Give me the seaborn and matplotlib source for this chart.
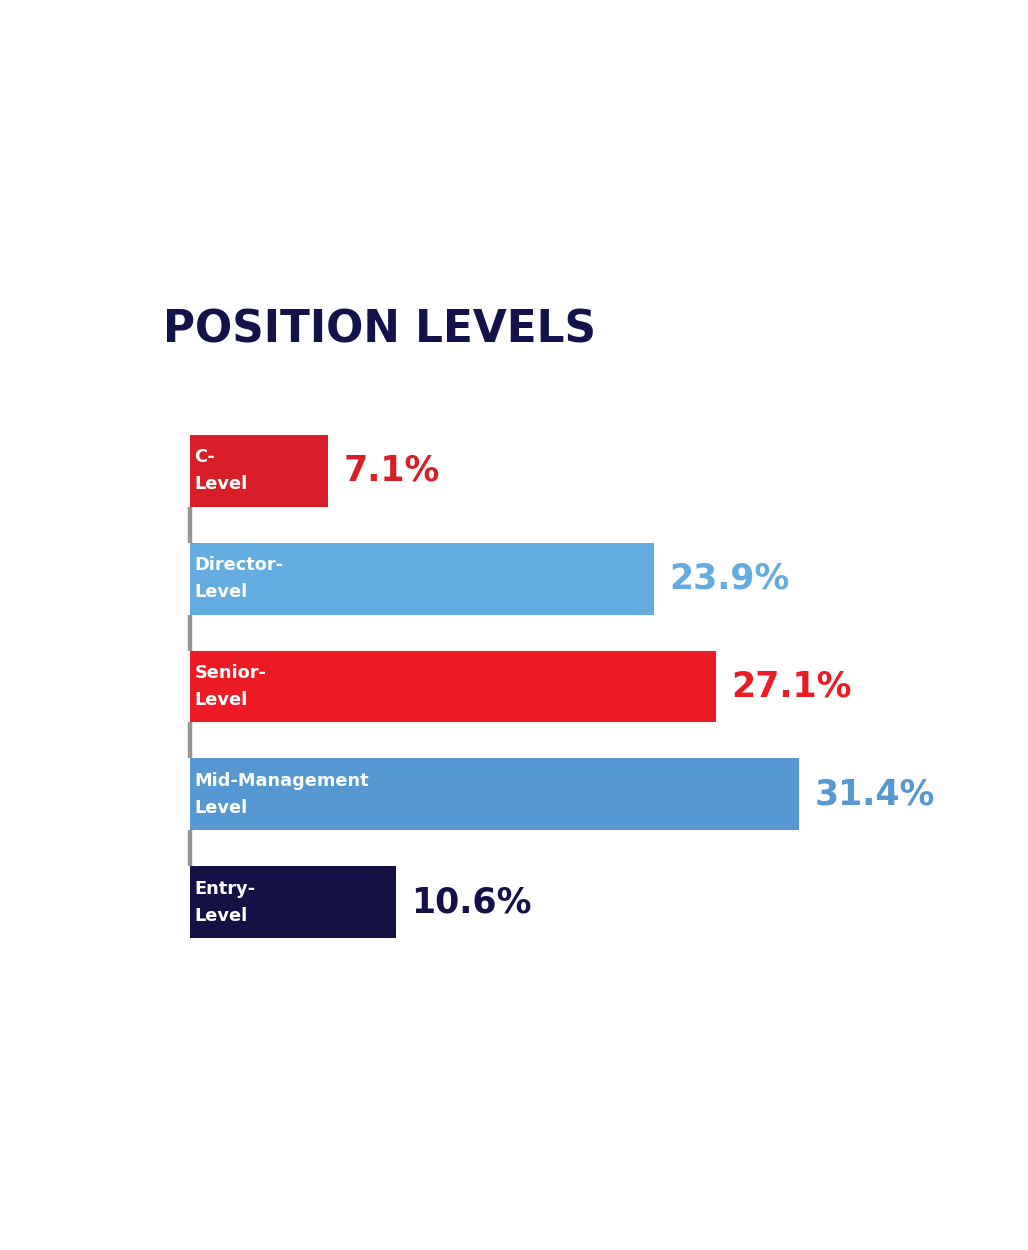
"""Position levels — horizontal bar chart."""
import matplotlib
matplotlib.use("Agg")
import matplotlib.pyplot as plt
import pandas as pd
import seaborn as sns

levels = ["C-Level", "Director-Level", "Senior-Level", "Mid-Management Level", "Entry-Level"]
inner_labels = ["C-\nLevel", "Director-\nLevel", "Senior-\nLevel", "Mid-Management\nLevel", "Entry-\nLevel"]
shares = [7.1, 23.9, 27.1, 31.4, 10.6]
colors = ["#d81f27", "#62acdf", "#ed1c24", "#5598d2", "#131146"]

df = pd.DataFrame({"level": levels, "share": shares})

sns.set_style("white")
plt.rcParams["font.family"] = ["DejaVu Sans"]

W, H = 1028, 1250
fig = plt.figure(figsize=(W / 100, H / 100), dpi=100)
ax = fig.add_axes([190 / W, (H - 956) / H, 776 / W, 539 / H])

sns.barplot(data=df, x="share", y="level", hue="level", order=levels,
            palette=dict(zip(levels, colors)), width=0.667, legend=False,
            saturation=1, linewidth=0, ax=ax)

ax.set_xlim(0, 40)
ax.set_ylim(4.5, -0.5)
ax.axis("off")

# grey connectors between consecutive bars
for i in range(len(levels) - 1):
    ax.vlines(0, i + 0.333, i + 1 - 0.333, color="#959595", lw=3.2,
              zorder=0, clip_on=False)

for i, (lab, val, col) in enumerate(zip(inner_labels, shares, colors)):
    ax.text(0.22, i, lab, color="white", fontsize=12.8, fontweight="bold",
            va="center", ha="left", linespacing=1.65)
    ax.text(val + 0.8, i, f"{val}%", color=col, fontsize=25, fontweight="bold",
            va="center", ha="left")

fig.text(163 / W, 1 - 330 / H, "POSITION LEVELS", color="#14124a", fontsize=31.5,
         fontweight="bold", va="center", ha="left")

fig.savefig("out.png", dpi=100, facecolor="white")
